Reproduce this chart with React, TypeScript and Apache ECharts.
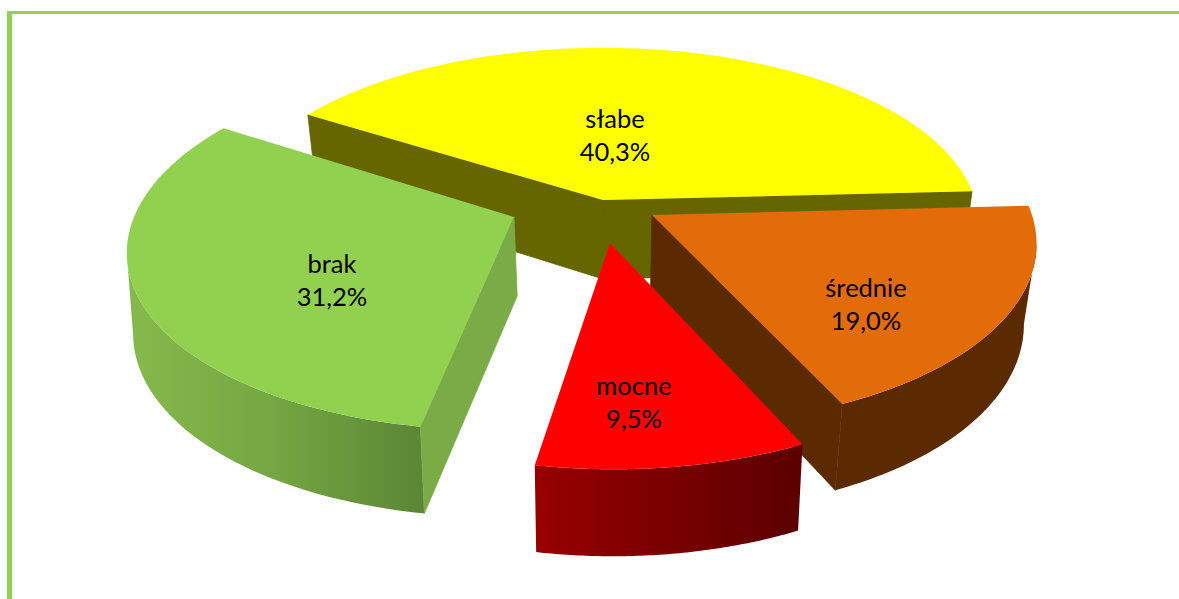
import React, { useEffect, useRef } from "react";
import * as echarts from "echarts";

const categories = ["słabe", "średnie", "mocne", "brak"];
const shares = [40.3, 19.0, 9.5, 31.2];
const percentLabels = ["40,3%", "19,0%", "9,5%", "31,2%"];

const START_ANGLE = -58;
const sliceLayout = [
  { ax: 603, ay: 200, rx: 372, ry: 172, k: 0.13, skew: 0, c0: 0, c1: -0.029, lx: 615, ly: 134, top: "#FFFF00", radial: "#666600", outer: ["#666600", "#666600", "#666600"] },
  { ax: 652, ay: 215, rx: 380, ry: 185, k: 0.12, skew: 13, c0: 0, c1: -0.029, lx: 866, ly: 303, top: "#E26B0A", radial: "#5C2A00", outer: ["#5C2A00", "#5C2A00", "#5C2A00"] },
  { ax: 610, ay: 243, rx: 374, ry: 181, k: 0.2, skew: 2.5, c0: 0, c1: -0.022, lx: 634, ly: 401, top: "#FF0000", radial: "#800000", outer: ["#980000", "#7A0000", "#5A0000"] },
  { ax: 514, ay: 217, rx: 380, ry: 181, k: 0.151, skew: -16, c0: 2.5, c1: -0.008, lx: 332, ly: 279, top: "#92D050", radial: "#7BAB47", outer: ["#85BA4B", "#74A642", "#5B8635"] },
];

function project(s: any, deg: number, r: number, lower: boolean): number[] {
  const t = (deg * Math.PI) / 180;
  const X = Math.sin(t) * r;
  const Y = -Math.cos(t) * r;
  const p = 1 / (1 - s.k * Y);
  let x = s.ax + s.rx * X * p + s.skew * Y * p;
  let y = s.ay + s.ry * Y * p;
  if (lower) {
    x += s.c0 + s.c1 * (x - 600);
    y += 79 + 8 * Y;
  }
  return [x, y];
}

function arc(s: any, a: number, b: number, n: number, lower: boolean): number[][] {
  const pts: number[][] = [];
  for (let i = 0; i <= n; i++) pts.push(project(s, a + ((b - a) * i) / n, 1, lower));
  return pts;
}

function side(p: number[], q: number[], r: number[]): number {
  return (q[0] - p[0]) * (r[1] - p[1]) - (q[1] - p[1]) * (r[0] - p[0]);
}

export default function App() {
  const ref = useRef<HTMLDivElement>(null);
  useEffect(() => {
    document.body.style.margin = "0";
    const chart = echarts.init(ref.current!, undefined, { renderer: "svg" });
    const total = shares.reduce((a, b) => a + b, 0);
    chart.setOption({
      animation: false,
      backgroundColor: "#FFFFFF",
      graphic: [
        { type: "rect", silent: true, shape: { x: 7, y: 11, width: 1172, height: 3 }, style: { fill: "#92D050" } },
        { type: "rect", silent: true, shape: { x: 7, y: 11, width: 5, height: 588 }, style: { fill: "#92D050" } },
      ],
      series: [
        {
          type: "custom",
          coordinateSystem: "none",
          silent: true,
          clip: false,
          data: shares.map((v, i) => ({ name: categories[i], value: [v] })),
          renderItem: (params: any, api: any) => {
            const i = params.dataIndex;
            const s = sliceLayout[i];
            const before = shares.slice(0, i).reduce((a, b) => a + b, 0);
            const a = START_ANGLE + (before / total) * 360;
            const b = a + (api.value(0) / total) * 360;
            const n = 70;
            const apexTop = project(s, 0, 0, false);
            const apexLow = project(s, 0, 0, true);
            const topArc = arc(s, a, b, n, false);
            const lowArc = arc(s, a, b, n, true);
            const mid = project(s, (a + b) / 2, 0.6, false);
            const children: any[] = [];
            const poly = (points: number[][], fill: any, stroke: any = null) => ({
              type: "polygon",
              shape: { points },
              style: { fill, stroke, lineWidth: stroke ? 0.8 : 0 },
            });
            // Outer wall: the stretch of the rim that faces the viewer.
            const upper: number[][] = [];
            const lower: number[][] = [];
            for (let j = 0; j <= n; j++) {
              const facing =
                (j < n && topArc[j + 1][0] < topArc[j][0]) || (j > 0 && topArc[j][0] < topArc[j - 1][0]);
              if (facing) {
                upper.push(topArc[j]);
                lower.push(lowArc[j]);
              }
            }
            if (upper.length > 1) {
              children.push(
                poly(
                  [...upper, ...lower.slice().reverse()],
                  new echarts.graphic.LinearGradient(0, 0, 1, 0, [
                    { offset: 0, color: s.outer[0] },
                    { offset: 0.5, color: s.outer[1] },
                    { offset: 1, color: s.outer[2] },
                  ])
                )
              );
            }
            // Radial walls: only those that turn towards the viewer.
            [0, n].forEach((e) => {
              const end = topArc[e];
              const mSide = side(apexTop, end, mid);
              const dSide = side(apexTop, end, [(apexTop[0] + end[0]) / 2, (apexTop[1] + end[1]) / 2 + 50]);
              if (mSide * dSide < 0) children.push(poly([apexTop, end, lowArc[e], apexLow], s.radial, s.radial));
            });
            children.push(poly([apexTop, ...topArc], s.top));
            children.push({
              type: "text",
              x: s.lx,
              y: s.ly,
              style: {
                text: categories[i] + "\n" + percentLabels[i],
                fill: "#000000",
                font: '25.5px Lato, "Open Sans", sans-serif',
                lineHeight: 33,
                align: "center",
                verticalAlign: "middle",
              },
            });
            return { type: "group", children };
          },
        },
      ],
    });
    return () => chart.dispose();
  }, []);
  return <div ref={ref} style={{ width: 1179, height: 599 }} />;
}
